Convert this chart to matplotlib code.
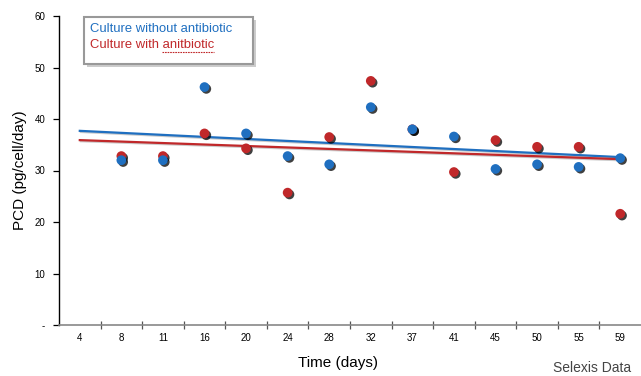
import matplotlib
matplotlib.use("Agg")
import matplotlib.pyplot as plt
import matplotlib.patheffects as pe
from matplotlib.patches import Rectangle

days = ["4", "8", "11", "16", "20", "24", "28", "32", "37", "41", "45", "50", "55", "59"]
point_days = ["8", "11", "16", "20", "24", "28", "32", "37", "41", "45", "50", "55", "59"]
without_ab = [32.0, 32.0, 46.2, 37.2, 32.8, 31.2, 42.3, 38.0, 36.6, 30.3, 31.2, 30.7, 32.4]
with_ab = [32.8, 32.8, 37.2, 34.3, 25.7, 36.5, 47.4, 38.0, 29.7, 35.9, 34.6, 34.6, 21.6]
trend_days = ["4", "59"]
trend_without = [37.7, 32.6]
trend_with = [35.9, 32.2]
yticks = [0, 10, 20, 30, 40, 50, 60]
ytick_labels = ["-", "10", "20", "30", "40", "50", "60"]

BLUE = "#1f6fc0"
RED = "#c0282a"

plt.rcParams['font.family'] = ['Liberation Sans', 'DejaVu Sans']
fig = plt.figure(figsize=(6.41, 3.76), dpi=100)
ax = fig.add_axes([59/641, 1 - 325/376, 1 - 59/641, (325 - 16)/376])

idx = {d: i for i, d in enumerate(days)}
px = [idx[d] for d in point_days]
tx = [idx[d] for d in trend_days]

line_shadow = [pe.SimpleLineShadow(offset=(0.8, -0.8), shadow_color='gray', alpha=0.4), pe.Normal()]
ax.plot(tx, trend_without, color=BLUE, lw=1.6, zorder=2, path_effects=line_shadow)
ax.plot(tx, trend_with, color=RED, lw=1.6, zorder=2, path_effects=line_shadow)

mark_shadow = [pe.SimplePatchShadow(offset=(1.3, -1.3), shadow_rgbFace='black', alpha=0.75), pe.Normal()]
ax.plot(px, with_ab, 'o', color=RED, ms=7, mew=0, zorder=3, path_effects=mark_shadow)
ax.plot(px, without_ab, 'o', color=BLUE, ms=7, mew=0, zorder=4, path_effects=mark_shadow)

ax.set_xlim(-0.5, len(days) - 0.5)
ax.set_ylim(0, 60)
ax.set_xticks(range(len(days)))
ax.set_xticklabels(days, fontsize=7)
ax.set_xticks([i + 0.5 for i in range(len(days) - 1)], minor=True)
ax.tick_params(axis='x', which='major', length=0, pad=6)
ax.tick_params(axis='x', which='minor', direction='inout', length=6, color='#555555', width=0.9)
ax.set_yticks(yticks)
ax.set_yticklabels(ytick_labels, fontsize=7)
ax.tick_params(axis='y', length=4, width=0.9, pad=6)

for s in ['top', 'right']:
    ax.spines[s].set_visible(False)
ax.spines['left'].set_color('black')
ax.spines['left'].set_linewidth(1.0)
ax.spines['bottom'].set_color('#888888')
ax.spines['bottom'].set_linewidth(1.2)

fig.text(20/641, 1 - 170/376, "PCD (pg/cell/day)", rotation=90, ha='center', va='center', fontsize=11)
fig.text(338/641, 1 - 363/376, "Time (days)", ha='center', va='center', fontsize=11)
fig.text(553/641, 1 - 368/376, "Selexis Data", ha='left', va='center', fontsize=10, color='#444444')

# legend box
box = Rectangle((84/641, 1 - 64/376), (253 - 84)/641, (64 - 17)/376, transform=fig.transFigure,
                facecolor='white', edgecolor='#999999', lw=1.5, zorder=5,
                path_effects=[pe.SimplePatchShadow(offset=(2, -2), shadow_rgbFace='gray', alpha=0.4), pe.Normal()])
fig.add_artist(box)
fig.text(90/641, 1 - 29/376, "Culture without antibiotic", color=BLUE, fontsize=9.4, va='center', zorder=6)
prefix = "Culture with "
word = "anitbiotic"
t = fig.text(90/641, 1 - 45/376, prefix + word, color=RED, fontsize=9.4, va='center', zorder=6)
r = fig.canvas.get_renderer()
full_w = t.get_window_extent(r).width
tmp = fig.text(0, 0, prefix.rstrip(), fontsize=9.4)
pre_w = tmp.get_window_extent(r).width
tmp.remove()
x1 = 90 + full_w
x0 = x1 - (full_w - pre_w) + 2.5
fig.add_artist(plt.Line2D([x0/641, x1/641], [1 - 51.5/376, 1 - 51.5/376], transform=fig.transFigure,
                          color=RED, lw=0.8, linestyle=(0, (1.5, 0.8)), zorder=6))

fig.savefig("out.png", dpi=100)
